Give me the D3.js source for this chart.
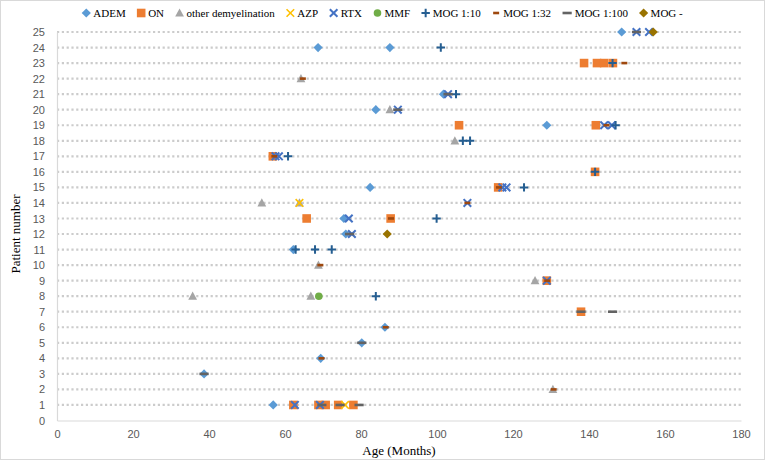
<!DOCTYPE html>
<html>
<head>
<meta charset="utf-8">
<script src="https://cdn.jsdelivr.net/npm/d3@7"></script>
<style>
  html, body { margin: 0; padding: 0; background: #fff; }
  svg { display: block; }
</style>
</head>
<body>
<svg id="chart" width="765" height="462"></svg>
<script>
// ---------- DATA ----------
const categories = ["ADEM", "ON", "other demyelination", "AZP", "RTX", "MMF", "MOG 1:10", "MOG 1:32", "MOG 1:100", "MOG -"];
const xTickValues = [0, 20, 40, 60, 80, 100, 120, 140, 160, 180];
const yTickValues = [0, 1, 2, 3, 4, 5, 6, 7, 8, 9, 10, 11, 12, 13, 14, 15, 16, 17, 18, 19, 20, 21, 22, 23, 24, 25];
const xTitle = "Age (Months)";
const yTitle = "Patient number";

// [age in months, patient number]
const adem = [[148.6,25],[68.7,24],[87.6,24],[101.7,21],[83.9,20],[128.9,19],[82.4,15],[75.5,13],[76.0,12],[62.2,11],[86.3,6],[80.2,5],[69.4,4],[38.7,3],[56.9,1]];
const on = [[138.7,23],[142.1,23],[144.0,23],[146.3,23],[105.8,19],[141.8,19],[56.8,17],[141.6,16],[116.1,15],[65.7,13],[87.8,13],[128.9,9],[137.9,7],[62.2,1],[68.8,1],[70.7,1],[74.0,1],[78.0,1]];
const otherDemyelination = [[64.2,22],[87.6,20],[104.7,18],[53.9,14],[63.8,14],[68.8,10],[125.8,9],[35.7,8],[66.8,8],[130.5,2]];
const azp = [[63.8,14],[75.8,1]];
const rtx = [[152.5,25],[155.8,25],[102.9,21],[89.7,20],[144.0,19],[146.0,19],[57.5,17],[58.4,17],[117.2,15],[118.3,15],[108.0,14],[76.8,13],[77.6,12],[128.9,9],[62.6,1],[69.2,1]];
const mmf = [[68.9,8]];
const mog10 = [[101.0,24],[146.2,23],[105.0,21],[147.0,19],[106.8,18],[108.7,18],[60.8,17],[141.6,16],[122.9,15],[99.9,13],[62.8,11],[67.9,11],[72.3,11],[83.9,8]];
const mog32 = [[149.3,23],[64.7,22],[144.6,19],[57.2,17],[116.3,15],[108.0,14],[87.9,13],[69.3,10],[129.0,9],[86.5,6],[69.6,4],[130.7,2]];
const mog100 = [[152.5,25],[102.9,21],[89.7,20],[77.0,12],[137.9,7],[146.2,7],[80.2,5],[38.7,3],[69.7,1],[74.5,1],[79.5,1]];
const mogNeg = [[156.9,25],[86.9,12]];

const seriesValues = [adem, on, otherDemyelination, azp, rtx, mmf, mog10, mog32, mog100, mogNeg];

// ---------- STYLE ----------
const colors = ["#5b9bd5", "#ed7d31", "#a5a5a5", "#ffc000", "#4472c4", "#70ad47", "#255e91", "#9e480e", "#636363", "#997300"];
const shapes = ["diamond", "square", "triangle", "xthin", "x", "circle", "plus", "dashShort", "dashLong", "diamond"];

function shapePath(kind) {
  switch (kind) {
    case "diamond": return "M0,-4.6L4.6,0L0,4.6L-4.6,0Z";
    case "square": return "M-4.3,-4.3H4.3V4.3H-4.3Z";
    case "triangle": return "M0,-4.6L4.4,3.6H-4.4Z";
    case "circle": return "M3.8,0A3.8,3.8 0 1,1 -3.8,0A3.8,3.8 0 1,1 3.8,0Z";
    case "dashShort": return "M-3,-1.3H3V1.3H-3Z";
    case "dashLong": return "M-4.6,-1.3H4.6V1.3H-4.6Z";
    case "x": case "xthin": return "M-3.8,-3.8L3.8,3.8M-3.8,3.8L3.8,-3.8";
    case "plus": return "M-4.2,0H4.2M0,-4.2V4.2";
  }
}
function isStroke(kind) { return kind === "x" || kind === "xthin" || kind === "plus"; }
function strokeW(kind) { return kind === "xthin" ? 1.6 : 2; }

// ---------- CHART ----------
const svg = d3.select("#chart");
const W = 765, H = 462;
const plot = { left: 57, right: 741, top: 32, bottom: 420.5 };

svg.append("rect").attr("x", 0.5).attr("y", 0.5).attr("width", W - 1).attr("height", H - 3)
  .attr("fill", "#fff").attr("stroke", "#d9d9d9").attr("stroke-width", 1);

const x = d3.scaleLinear().domain([0, 180]).range([plot.left, plot.right]);
const y = d3.scaleLinear().domain([0, 25]).range([plot.bottom, plot.top]);

// gridlines
svg.append("g").selectAll("line")
  .data(yTickValues.filter(v => v > 0))
  .join("line")
  .attr("x1", plot.left).attr("x2", plot.right)
  .attr("y1", d => y(d)).attr("y2", d => y(d))
  .attr("stroke", "#cccccc").attr("stroke-width", 2.2)
  .attr("stroke-dasharray", "2.2 2.6");

// axes
const xAxis = svg.append("g").attr("transform", `translate(0,${plot.bottom})`)
  .call(d3.axisBottom(x).tickValues(xTickValues).tickSize(0).tickPadding(10).tickFormat(d3.format("d")));
xAxis.select(".domain").attr("stroke", "#d9d9d9").attr("stroke-width", 1.2);
xAxis.selectAll("text").attr("fill", "#595959").style("font-family", "'Liberation Sans', Arial, sans-serif").style("font-size", "11px");

const yAxis = svg.append("g").attr("transform", `translate(${plot.left},0)`)
  .call(d3.axisLeft(y).tickValues(yTickValues).tickSize(0).tickPadding(12).tickFormat(d3.format("d")));
yAxis.select(".domain").attr("stroke", "#d9d9d9").attr("stroke-width", 1.2);
yAxis.selectAll("text").attr("fill", "#595959").style("font-family", "'Liberation Sans', Arial, sans-serif").style("font-size", "11px");

// axis titles
svg.append("text").attr("x", (plot.left + plot.right) / 2).attr("y", 455)
  .attr("text-anchor", "middle").attr("fill", "#000")
  .style("font-family", "'Liberation Serif', 'Times New Roman', serif").style("font-size", "13px")
  .text(xTitle);
svg.append("text").attr("transform", "translate(20,234) rotate(-90)")
  .attr("text-anchor", "middle").attr("fill", "#000")
  .style("font-family", "'Liberation Serif', 'Times New Roman', serif").style("font-size", "13px")
  .text(yTitle);

// markers
const marksG = svg.append("g");
seriesValues.forEach((vals, i) => {
  const kind = shapes[i];
  marksG.append("g").selectAll("path")
    .data(vals)
    .join("path")
    .attr("transform", d => `translate(${x(d[0])},${y(d[1])})`)
    .attr("d", shapePath(kind))
    .attr("fill", isStroke(kind) ? "none" : colors[i])
    .attr("stroke", isStroke(kind) ? colors[i] : "none")
    .attr("stroke-width", strokeW(kind));
});

// legend
const legendG = svg.append("g");
const legendFont = { family: "'Liberation Serif', 'Times New Roman', serif", size: "11px" };
const items = categories.map((c, i) => {
  const t = legendG.append("text").attr("y", 17)
    .style("font-family", legendFont.family).style("font-size", legendFont.size)
    .attr("fill", "#000").text(c);
  return { t, w: t.node().getComputedTextLength(), i };
});
const gap = 15.5;
let total = 0;
items.forEach((it, k) => {
  const mw = shapes[it.i] === "dashLong" ? 9 : 8;
  it.mw = mw;
  total += mw + 3 + it.w + (k < items.length - 1 ? gap - 4 : 0);
});
let cx = W / 2 - total / 2;
items.forEach((it) => {
  const kind = shapes[it.i];
  const mx = cx + it.mw / 2;
  legendG.append("path").attr("transform", `translate(${mx},13)`)
    .attr("d", shapePath(kind))
    .attr("fill", isStroke(kind) ? "none" : colors[it.i])
    .attr("stroke", isStroke(kind) ? colors[it.i] : "none")
    .attr("stroke-width", strokeW(kind));
  it.t.attr("x", cx + it.mw + 3);
  cx += it.mw + 3 + it.w + gap - 4;
});
</script>
</body>
</html>
